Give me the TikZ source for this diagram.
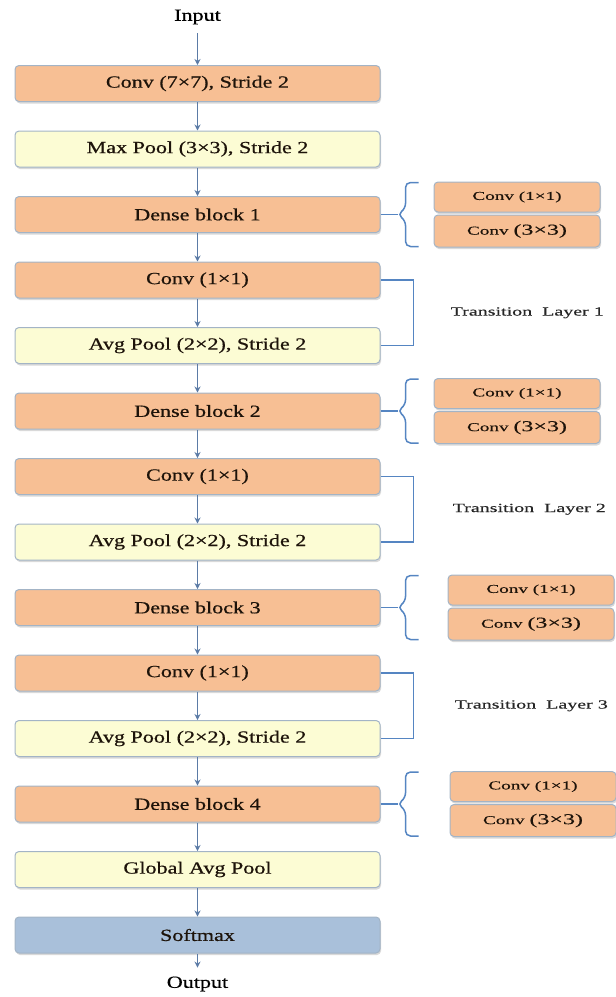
\documentclass[tikz,border=0pt]{standalone}
\usepackage{fontspec}
\setmainfont[FakeStretch=1.3, FakeBold=0.6]{Liberation Serif}
\newfontfamily\widefont[FakeStretch=1.6, FakeBold=0.4]{Liberation Serif}
\usetikzlibrary{positioning,shadows,arrows.meta,calc}
\definecolor{convorange}{HTML}{F7BF94}
\definecolor{poolyellow}{HTML}{FCFCD4}
\definecolor{softblue}{HTML}{A9C0DA}
\definecolor{boxedge}{HTML}{A3B4C6}
\definecolor{arrowblue}{HTML}{5B7BA6}
\definecolor{braceblue}{HTML}{5585C2}
\tikzset{
        % Main layer boxes
        node_conv/.style={rectangle, rounded corners=4pt, draw=boxedge, line width=1pt, fill=convorange,
            minimum width=365pt, minimum height=36pt, text=black!85!brown, font=\fontsize{17}{20}\selectfont,
            drop shadow={shadow xshift=1pt, shadow yshift=-2pt, opacity=0.3}},
        % Pooling boxes
        node_pool/.style={node_conv, fill=poolyellow},
        % Output box
        node_soft/.style={node_conv, fill=softblue},
        % Boxes inside a dense block
        node_sub/.style={node_conv, minimum width=166pt, minimum height=30pt, font=\widefont\fontsize{12}{14}\selectfont},
        % Input and output texts
        node_label/.style={inner sep=0pt, outer sep=9pt, font=\fontsize{17}{20}\selectfont},
        % Transition texts
        node_trans/.style={inner sep=0pt, anchor=west, text=black!85, font=\widefont\fontsize{12.5}{14}\selectfont},
        line_arrow/.style={-{Stealth[length=6pt,width=6pt]}, draw=arrowblue, line width=1.6pt},
        line_brace/.style={draw=braceblue, line width=1.5pt}
}
\begin{document}
\begin{tikzpicture}[x=1pt, y=1pt, node distance=28.5pt]
    \useasboundingbox (0,0) rectangle (616,-997);
    \node[node_conv] (conv0) at (197.5,-83.5) {Conv (7×7), Stride 2};
    \node[node_pool, below=of conv0] (pool0) {Max Pool (3×3), Stride 2};
    \node[node_conv, below=of pool0] (dense1) {Dense block 1};
    \node[node_conv, below=of dense1] (trconv1) {Conv (1×1)};
    \node[node_pool, below=of trconv1] (trpool1) {Avg Pool (2×2), Stride 2};
    \node[node_conv, below=of trpool1] (dense2) {Dense block 2};
    \node[node_conv, below=of dense2] (trconv2) {Conv (1×1)};
    \node[node_pool, below=of trconv2] (trpool2) {Avg Pool (2×2), Stride 2};
    \node[node_conv, below=of trpool2] (dense3) {Dense block 3};
    \node[node_conv, below=of dense3] (trconv3) {Conv (1×1)};
    \node[node_pool, below=of trconv3] (trpool3) {Avg Pool (2×2), Stride 2};
    \node[node_conv, below=of trpool3] (dense4) {Dense block 4};
    \node[node_pool, below=of dense4] (gpool) {Global Avg Pool};
    \node[node_soft, below=of gpool] (soft) {Softmax};
    \node[node_label] (input) at (197.5,-17) {Input};
    \node[node_label] (output) at (197.5,-984) {Output};

    % main flow
    \draw[line_arrow] (input) -- (conv0);
    \foreach \a/\b in {conv0/pool0, pool0/dense1, dense1/trconv1, trconv1/trpool1, trpool1/dense2,
                       dense2/trconv2, trconv2/trpool2, trpool2/dense3, dense3/trconv3, trconv3/trpool3,
                       trpool3/dense4, dense4/gpool, gpool/soft}
        \draw[line_arrow] (\a.south) -- (\b.north);
    \draw[line_arrow] (soft) -- (output);

    % dense block contents
    \foreach \n/\dx in {1/53, 2/53, 3/67, 4/69} {
        \node[node_sub, anchor=south west] (sub\n-a) at ([xshift=\dx pt, yshift=2pt]dense\n.east) {Conv (1×1)};
        \node[node_sub, below=2pt of sub\n-a, minimum height=32pt] (sub\n-b) {Conv {\fontsize{15}{16}\selectfont(3×3)}};
        \draw[line_brace] (dense\n.east) -- ++(17,0);
        \draw[line_brace, rounded corners=5pt] ([xshift=38pt, yshift=32pt]dense\n.east)
            -- ++(-13,0) -- ++(0,-26) -- ++(-8,-6) -- ++(8,-6) -- ++(0,-26) -- ++(13,0);
    }

    % transition layers
    \foreach \n/\dx in {1/70, 2/72, 3/74} {
        \draw[line_brace, line width=1.3pt] (trconv\n.east) -- ++(33,0) |- (trpool\n.east);
        \node[node_trans] (trlab\n) at ([xshift=\dx pt]$(trconv\n.east)!0.5!(trpool\n.east)$) {Transition\ \ Layer \n};
    }
\end{tikzpicture}
\end{document}
